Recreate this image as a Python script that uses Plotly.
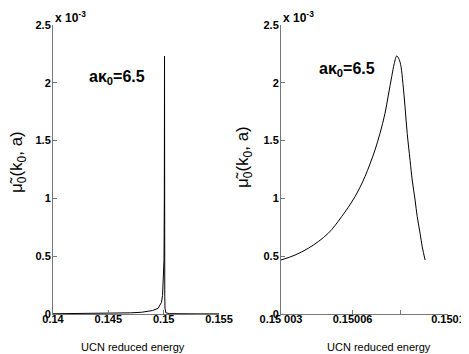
import plotly.graph_objects as go
from plotly.subplots import make_subplots

# left panel: wide energy range, resonance appears as a spike
energy_wide = [0.14, 0.142, 0.144, 0.145, 0.146, 0.147, 0.148, 0.1485, 0.149, 0.1495,
               0.1498, 0.1499, 0.14995, 0.15, 0.15003, 0.15006, 0.150078, 0.15009,
               0.1501, 0.15012, 0.15015, 0.1502, 0.1505, 0.151, 0.153, 0.155]
mu_wide = [0.002, 0.003, 0.004, 0.005, 0.007, 0.010, 0.015, 0.02, 0.03, 0.05,
           0.10, 0.16, 0.25, 0.38, 0.47, 1.02, 2.23, 0.47,
           0.15, 0.05, 0.02, 0.01, 0.003, 0.002, 0.001, 0.001]

# right panel: zoom on the resonance
energy_zoom = [0.1500300, 0.1500359, 0.1500414, 0.1500456, 0.1500498, 0.1500526,
               0.1500554, 0.1500582, 0.1500610, 0.1500631, 0.1500652, 0.1500673,
               0.1500694, 0.1500715, 0.1500736, 0.1500750, 0.1500764, 0.1500775,
               0.1500785, 0.1500795, 0.1500803, 0.1500811, 0.1500820, 0.1500829,
               0.1500841, 0.1500850, 0.1500862, 0.1500871, 0.1500883, 0.1500892,
               0.1500904]
mu_zoom = [0.467, 0.510, 0.568, 0.626, 0.698, 0.764,
           0.842, 0.923, 1.015, 1.096, 1.188, 1.298,
           1.419, 1.563, 1.736, 1.894, 2.053, 2.168,
           2.232, 2.203, 2.14, 1.995, 1.79, 1.563,
           1.33, 1.159, 0.986, 0.842, 0.698, 0.582,
           0.467]

y_ticks = [0, 0.5, 1, 1.5, 2, 2.5]
y_ticktext = ["0", "0.5", "1", "1.5", "2", "2.5"]
left_xticks = [0.14, 0.145, 0.15, 0.155]
left_xtext = ["0.14", "0.145", "0.15", "0.155"]
right_xticks = [0.15003, 0.15006, 0.15008, 0.1501]
right_xtext = ["0.15 003", "0.15006", "", "0.1501"]

# the page body keeps its default 8px margin, so positions are shifted by it
OFF = 8
W, H = 469, 354 - OFF
FONT = "Liberation Sans, Arial, Helvetica, sans-serif"


def px(x):
    return (x - OFF) / W


def py(y):
    return 1 - (y - OFF) / H


fig = make_subplots(rows=1, cols=2)
fig.add_scatter(x=energy_wide, y=[v * 1e-3 for v in mu_wide], mode="lines",
                line={"color": "black", "width": 1}, showlegend=False, row=1, col=1)
fig.add_scatter(x=energy_zoom, y=[v * 1e-3 for v in mu_zoom], mode="lines",
                line={"color": "black", "width": 1, "shape": "spline"},
                showlegend=False, row=1, col=2)

axis_style = dict(showgrid=False, zeroline=False, showline=True, linecolor="#777",
                  linewidth=1, ticks="inside", ticklen=4, tickcolor="#777",
                  tickfont={"family": FONT, "size": 11, "color": "black"},
                  ticklabeloverflow="allow", automargin=False)
yt = [v * 1e-3 for v in y_ticks]
bold = lambda labels: [f"<b>{t}</b>" if t else "" for t in labels]
fig.update_xaxes(domain=[px(53), px(219)], range=[0.14, 0.155], tickvals=left_xticks,
                 ticktext=bold(left_xtext), ticklabelstandoff=-5, row=1, col=1, **axis_style)
fig.update_xaxes(domain=[px(281), px(448)], range=[0.15003, 0.1501], tickvals=right_xticks,
                 ticktext=bold(right_xtext), ticklabelstandoff=-5, row=1, col=2, **axis_style)
for c in (1, 2):
    fig.update_yaxes(domain=[py(314), py(25)], range=[0, 2.5e-3], tickvals=yt,
                     ticktext=bold(y_ticktext), ticklabelstandoff=-1, row=1, col=c, **axis_style)


def note(x, y, text, size, xanchor="center", angle=0):
    fig.add_annotation(x=px(x), y=py(y), xref="paper", yref="paper", text=text,
                       textangle=angle, showarrow=False, xanchor=xanchor, yanchor="middle",
                       font={"family": FONT, "size": size, "color": "black"})


label = "μ̃<sub>0</sub>(k<sub>0</sub>, a)"
for x0, xc, yl in ((53, 18, 162), (281, 244, 157)):
    note(xc, yl, label, 17, angle=-90)
    note(x0, 17, "<b>x 10<sup>-3</sup></b>", 12, xanchor="left")

for xc in (133, 379):
    note(xc, 347, "UCN reduced energy", 11)

for xl, yc in ((87, 77), (317, 70)):
    note(xl, yc, "<b>aκ<sub>0</sub>=6.5</b>", 16, xanchor="left")

fig.update_layout(width=W, height=H, margin={"l": 0, "r": 0, "t": 0, "b": 0},
                  paper_bgcolor="white", plot_bgcolor="white", showlegend=False,
                  font={"family": FONT, "color": "black"})
fig.write_html("out.html")
